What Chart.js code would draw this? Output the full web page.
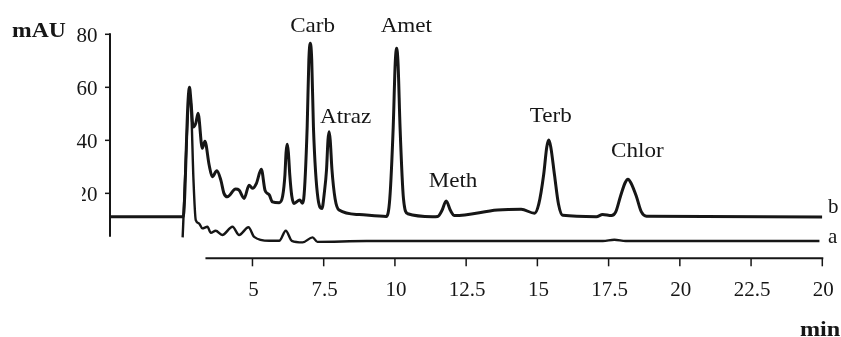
<!DOCTYPE html>
<html>
<head>
<meta charset="utf-8">
<script src="https://cdn.jsdelivr.net/npm/chart.js@4/dist/chart.umd.min.js"></script>
<style>
  html, body { margin: 0; padding: 0; background: #fff; }
  #wrap { width: 841px; height: 337px; position: relative; }
</style>
</head>
<body>
<div id="wrap"><canvas id="c" width="841" height="337"></canvas></div>
<script>
// ---- data (time in min, absorbance in mAU) ----
const traceBTimes = [0, 2.57, 2.74, 2.79, 2.84, 2.92, 3.01, 3.09, 3.24, 3.33, 3.48, 3.59, 3.75, 3.89, 4.00, 4.12, 4.41, 4.53, 4.71, 4.88, 5.00, 5.14, 5.31, 5.44, 5.59, 5.70, 5.94, 6.06, 6.14, 6.18, 6.22, 6.26, 6.31, 6.38, 6.46, 6.66, 6.75, 6.80, 6.92, 6.98, 7.03, 7.08, 7.14, 7.30, 7.44, 7.52, 7.60, 7.65, 7.69, 7.73, 7.79, 7.90, 8.04, 8.75, 9.70, 9.82, 9.94, 10.01, 10.06, 10.11, 10.18, 10.30, 10.45, 11.32, 11.50, 11.65, 11.80, 11.95, 12.09, 13.6, 14.43, 14.90, 15.05, 15.22, 15.33, 15.40, 15.47, 15.60, 15.74, 15.89, 17.07, 17.29, 17.60, 17.75, 17.92, 18.08, 18.18, 18.28, 18.47, 18.65, 18.83, 25];
const traceBValues = [11.2, 11.2, 55, 60, 55, 45, 46.4, 50.2, 37, 39.7, 30.7, 26.3, 28.5, 25, 20, 18.7, 21.6, 21.2, 18.1, 23.1, 21.9, 23.8, 29.1, 21.2, 19.4, 16.8, 16.5, 19, 27, 35.5, 38.5, 35.5, 27, 19, 16.2, 17.5, 16.3, 18, 45, 70.5, 76.6, 70.5, 45, 18, 14.3, 20, 29, 40, 43.2, 40, 29, 18, 13.7, 12, 11.3, 18, 45, 69, 74.7, 69, 45, 18, 12.3, 11.2, 11.3, 13.5, 17.1, 13.5, 11.6, 13.7, 14, 12.5, 16, 27, 37.5, 40.1, 37.5, 27, 16, 11.7, 11.2, 12, 11.6, 13, 19, 24, 25.3, 24, 19, 13, 11.4, 11.1];

const traceATimes = [2.55, 2.75, 2.80, 2.85, 2.93, 3.01, 3.12, 3.24, 3.42, 3.54, 3.71, 3.94, 4.30, 4.53, 4.86, 5.06, 5.59, 5.94, 6.17, 6.38, 6.76, 7.11, 7.28, 9.0, 17.3, 17.7, 18.1, 24.9];
const traceAValues = [3.4, 53, 58, 52, 25, 9.9, 8.7, 6.8, 7.4, 5.1, 5.9, 4.3, 7.4, 4.3, 7.2, 3.6, 2.1, 2.1, 5.9, 2.1, 1.5, 3.4, 1.7, 2.0, 2.0, 2.5, 2.0, 2.0];

const xTickValues = [5, 7.5, 10, 12.5, 15, 17.5, 20, 22.5, 25];
const xTickLabels = ["5", "7.5", "10", "12.5", "15", "17.5", "20", "22.5", "20"];
const yTickValues = [20, 40, 60, 80];
const yTickLabels = ["20", "40", "60", "80"];

const peakNames = ["Carb", "Atraz", "Amet", "Meth", "Terb", "Chlor"];
const peakLabelTimes = [7.11, 8.27, 10.40, 12.04, 15.47, 18.51];
const peakLabelValues = [81.0, 46.6, 81.0, 22.5, 47.0, 33.8];

const traceNames = ["b", "a"];
const traceLabelTimes = [25.2, 25.2];
const traceLabelValues = [12.5, 1.2];

const xAxisStart = 3.35;
const yAxisRange = [3.6, 80.4];
const yAxisTitle = "mAU";
const xAxisTitle = "min";

// ---- build ----
const toPts = (t, v) => t.map((x, i) => ({ x: x, y: v[i] }));
const INK = "#161616";
const SERIF = '"Liberation Serif", "DejaVu Serif", serif';

function stretchedText(ctx, text, x, y, font, sx, align) {
  ctx.save();
  ctx.font = font;
  ctx.textBaseline = "alphabetic";
  ctx.textAlign = "left";
  const w = ctx.measureText(text).width * sx;
  let left = x;
  if (align === "center") left = x - w / 2;
  else if (align === "right") left = x - w;
  ctx.translate(left, y);
  ctx.scale(sx, 1);
  ctx.fillText(text, 0, 0);
  ctx.restore();
}

const decor = {
  id: "decor",
  afterDatasetsDraw(chart) {
    const ctx = chart.ctx;
    const xs = chart.scales.x, ys = chart.scales.y;
    ctx.save();
    ctx.strokeStyle = INK;
    ctx.fillStyle = INK;
    ctx.lineCap = "butt";

    // y axis
    const x0 = xs.getPixelForValue(0);
    ctx.lineWidth = 2;
    ctx.beginPath();
    ctx.moveTo(x0, ys.getPixelForValue(yAxisRange[0]));
    ctx.lineTo(x0, ys.getPixelForValue(yAxisRange[1]));
    ctx.stroke();
    yTickValues.forEach((v, i) => {
      const py = ys.getPixelForValue(v);
      ctx.lineWidth = 1.5;
      ctx.beginPath();
      ctx.moveTo(x0 - 5, py);
      ctx.lineTo(x0, py);
      ctx.stroke();
      ctx.save();
      if (v === 20) { ctx.beginPath(); ctx.rect(x0 - 28, py - 20, 40, 40); ctx.clip(); }
      stretchedText(ctx, yTickLabels[i], x0 - 12.5, py + 7.5, "21px " + SERIF, 1.0, "right");
      ctx.restore();
    });
    stretchedText(ctx, yAxisTitle, 12, 36.5, "bold 20px " + SERIF, 1.18, "left");

    // x axis
    const yb = ys.getPixelForValue(ys.min);
    ctx.lineWidth = 2;
    ctx.beginPath();
    ctx.moveTo(xs.getPixelForValue(xAxisStart), yb);
    ctx.lineTo(xs.getPixelForValue(25) + 1, yb);
    ctx.stroke();
    xTickValues.forEach((v, i) => {
      const px = xs.getPixelForValue(v);
      ctx.lineWidth = 1.5;
      ctx.beginPath();
      ctx.moveTo(px, yb);
      ctx.lineTo(px, yb + 8);
      ctx.stroke();
      stretchedText(ctx, xTickLabels[i], px + 1, yb + 38, "21px " + SERIF, 1.0, "center");
    });
    stretchedText(ctx, xAxisTitle, 800, 336, "bold 21px " + SERIF, 1.15, "left");

    // peak labels
    peakNames.forEach((n, i) => {
      stretchedText(ctx, n, xs.getPixelForValue(peakLabelTimes[i]), ys.getPixelForValue(peakLabelValues[i]),
        "22px " + SERIF, 1.05, "center");
    });
    traceNames.forEach((n, i) => {
      stretchedText(ctx, n, xs.getPixelForValue(traceLabelTimes[i]), ys.getPixelForValue(traceLabelValues[i]),
        "21px " + SERIF, 1.0, "left");
    });
    ctx.restore();
  }
};

new Chart(document.getElementById("c"), {
  type: "line",
  data: {
    datasets: [
      { label: "b", data: toPts(traceBTimes, traceBValues), borderColor: INK, borderWidth: 3,
        pointRadius: 0, cubicInterpolationMode: "monotone", fill: false, borderJoinStyle: "round" },
      { label: "a", data: toPts(traceATimes, traceAValues), borderColor: INK, borderWidth: 2.4,
        pointRadius: 0, cubicInterpolationMode: "monotone", fill: false, borderJoinStyle: "round" }
    ]
  },
  options: {
    responsive: false,
    animation: false,
    events: [],
    layout: { padding: { left: 110, right: 18.7, top: 34.3, bottom: 78.7 } },
    plugins: { legend: { display: false }, tooltip: { enabled: false } },
    scales: {
      x: { type: "linear", min: 0, max: 25, display: false },
      y: { type: "linear", min: -4.5, max: 80, display: false }
    }
  },
  plugins: [decor]
});
</script>
</body>
</html>
